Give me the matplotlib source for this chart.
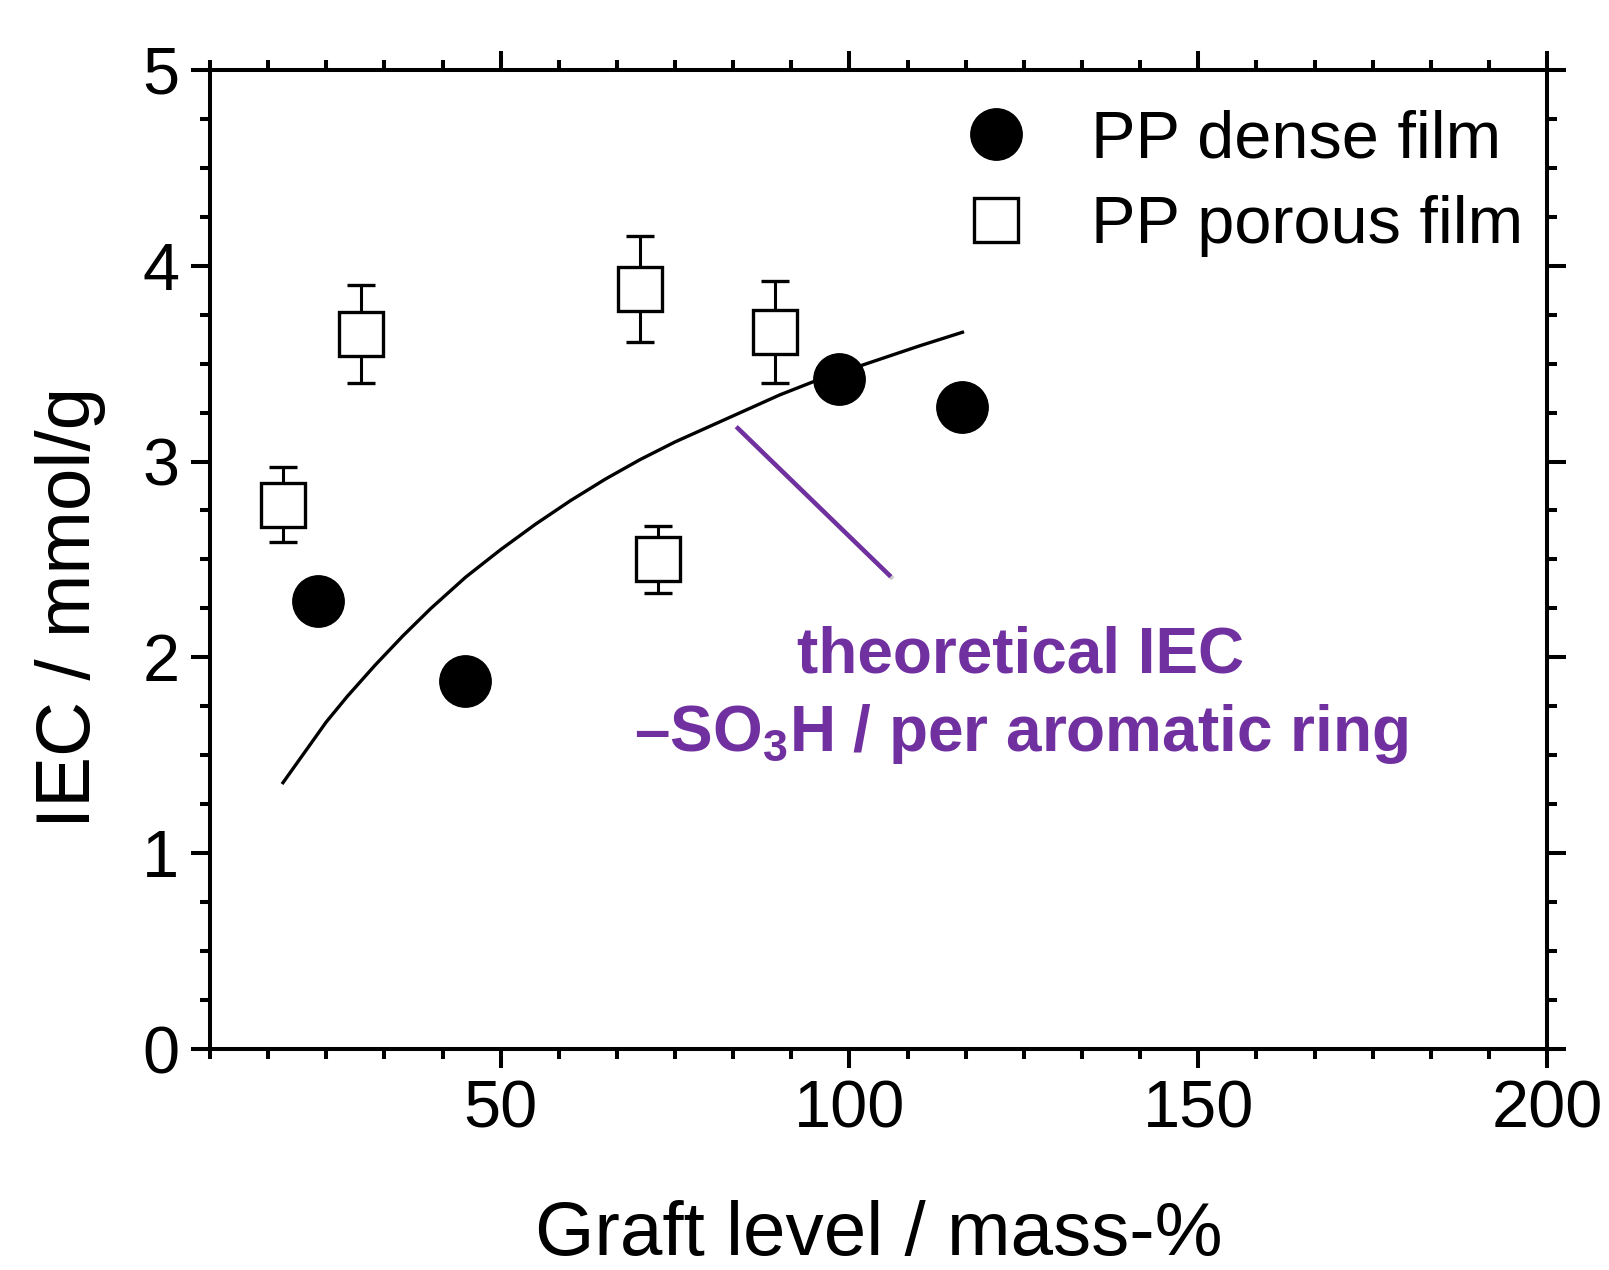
import numpy as np
import matplotlib
matplotlib.use('Agg')
import matplotlib.pyplot as plt
from matplotlib.ticker import MultipleLocator
from matplotlib.lines import Line2D
import matplotlib.patheffects as pe

plt.rcParams['font.family'] = ['Liberation Sans', 'DejaVu Sans']
plt.rcParams['mathtext.fontset'] = 'custom'
plt.rcParams['mathtext.rm'] = 'Liberation Sans'
plt.rcParams['mathtext.bf'] = 'Liberation Sans:bold'

# PP dense film
dense_x = [23.8, 44.9, 98.5, 116.2]
dense_y = [2.29, 1.88, 3.42, 3.28]

# PP porous film (with error bars)
porous_x = [18.8, 30.0, 70.0, 72.6, 89.3]
porous_y = [2.78, 3.65, 3.88, 2.50, 3.66]
porous_err = [0.19, 0.25, 0.27, 0.17, 0.26]

# theoretical IEC curve
theo_x = [18.8, 22, 25, 28, 32, 36, 40, 45, 50, 55, 60, 65, 70, 75, 80, 85,
          90, 95, 100, 105, 110, 116.2]
theo_y = [1.36, 1.52, 1.67, 1.80, 1.96, 2.11, 2.25, 2.41, 2.55, 2.68, 2.80, 2.91,
          3.01, 3.10, 3.18, 3.26, 3.34, 3.41, 3.47, 3.53, 3.59, 3.66]

# pointer line to the annotation
pointer_x = [84.0, 105.7]
pointer_y = [3.17, 2.42]

purple = '#7030A0'

fig = plt.figure(figsize=(16.09, 12.70), dpi=100)
ax = fig.add_axes([0.1305, 0.174, 0.831, 0.771])

ax.plot(theo_x, theo_y, color='black', lw=2.4, zorder=2, solid_joinstyle='round')
ax.plot(pointer_x, pointer_y, color=purple, lw=3.2, zorder=2,
        path_effects=[pe.SimpleLineShadow(offset=(1.5, -1.5), shadow_color='gray', alpha=0.4),
                      pe.Normal()])

ax.errorbar(porous_x, porous_y, yerr=porous_err, fmt='s', ms=31, mfc='white', mec='black',
            mew=2.4, ecolor='black', elinewidth=2.2, capsize=10, capthick=2.2, zorder=3)
ax.plot(dense_x, dense_y, 'o', ms=37, color='black', zorder=4)

ax.text(124.6, 2.01, 'theoretical IEC', color=purple, fontsize=46, fontweight='bold',
        ha='center', va='center')
ax.text(124.6, 1.61, r'–SO$_\mathbf{3}$H / per aromatic ring', color=purple, fontsize=46,
        fontweight='bold', ha='center', va='center')

ax.set_xlim(50 / 6, 200)
ax.set_ylim(0, 5)
ax.xaxis.set_major_locator(MultipleLocator(50))
ax.xaxis.set_minor_locator(MultipleLocator(50 / 6))
ax.yaxis.set_major_locator(MultipleLocator(1))
ax.yaxis.set_minor_locator(MultipleLocator(0.25))

for s in ax.spines.values():
    s.set_linewidth(2.9)
ax.tick_params(which='both', direction='out', top=True, right=True, width=2.9)
ax.tick_params(which='major', length=14, labelsize=48, pad=8)
ax.tick_params(which='minor', length=7)

ax.set_xlabel('Graft level / mass-%', fontsize=55, labelpad=42)
ax.set_ylabel('IEC / mmol/g', fontsize=55)
ax.yaxis.set_label_coords(-0.078, 0.451)

handles = [Line2D([], [], ls='none', marker='o', ms=37, color='black'),
           Line2D([], [], ls='none', marker='s', ms=31, mfc='white', mec='black', mew=2.4)]
ax.legend(handles, ['PP dense film', 'PP porous film'], loc='upper right',
          bbox_to_anchor=(1.017, 1.007), frameon=False, fontsize=48, handlelength=1.0,
          handletextpad=0.92, labelspacing=0.35, borderaxespad=0.3)

fig.savefig('out.png', dpi=100)
